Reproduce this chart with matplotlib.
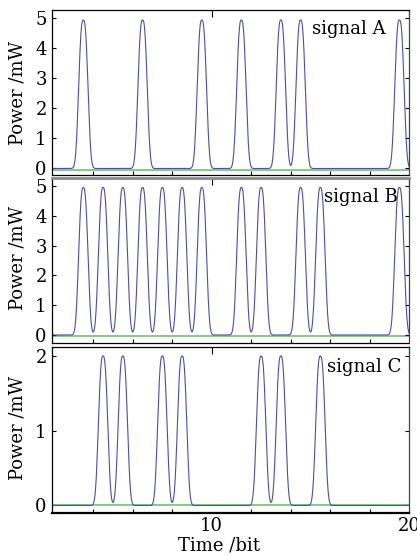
import numpy as np
import matplotlib.pyplot as plt
from matplotlib.ticker import FixedLocator

# bit slots that carry a pulse (slot n is centred at n + 0.5)
bits_A = [3, 6, 9, 11, 13, 14, 19]
bits_B = [3, 4, 5, 6, 7, 8, 9, 11, 12, 14, 15, 19]
bits_C = [4, 5, 7, 8, 12, 13, 15]

peak_A = 4.95   # mW
peak_B = 4.95
peak_C = 2.0

names = ["signal A", "signal B", "signal C"]
yticks_list = [[0, 1, 2, 3, 4, 5], [0, 1, 2, 3, 4, 5], [0, 1, 2]]

pulse_w = 0.222     # super-gaussian width (bit)
pulse_m = 2.73      # super-gaussian order


def pulse_train(t, bits, peak):
    p = np.zeros_like(t)
    for b in bits:
        p += peak * np.exp(-0.5 * (np.abs(t - (b + 0.5)) / pulse_w) ** pulse_m)
    return p


plt.rcParams['font.family'] = ['DejaVu Serif']
fig = plt.figure(figsize=(4.17, 5.56), dpi=100)
W, H = 417., 556.

# pixel boxes: top, bottom
boxes = [(10, 175), (178, 343), (347, 512.5)]
ylims = [(-0.217, 5.283), (-0.268, 5.268), (-0.094, 2.12)]
label_y = [0.5, 0.515, 0.51]
green_off = [-0.04, -0.04, 0.0]
left, right = 52.3, 409.3

t = np.linspace(1.93, 20, 4000)
series = [(bits_A, peak_A), (bits_B, peak_B), (bits_C, peak_C)]

axes = []
for i, (bits, peak) in enumerate(series):
    top, bot = boxes[i]
    ax = fig.add_axes([left / W, 1 - bot / H, (right - left) / W, (bot - top) / H])
    axes.append(ax)
    ax.axhline(green_off[i], color='#72c072', lw=1.2, zorder=1)
    ax.plot(t, pulse_train(t, bits, peak), color='#4d4da6', lw=0.8, zorder=2)
    ax.set_xlim(1.93, 20)
    ax.set_ylim(*ylims[i])
    ax.set_yticks(yticks_list[i])
    ax.xaxis.set_major_locator(FixedLocator([10, 20]))
    ax.xaxis.set_minor_locator(FixedLocator([4, 6, 8, 10, 12, 14, 16, 18]))
    ax.tick_params(axis='y', direction='in', length=3, width=0.8, labelsize=13,
                   pad=4, right=True)
    ax.tick_params(axis='x', which='major', direction='in', length=5, width=0.8,
                   labelsize=13, pad=3, top=True, bottom=False)
    ax.tick_params(axis='x', which='minor', direction='in', length=3, width=0.8,
                   bottom=True, top=False)
    if i < 2:
        ax.tick_params(axis='x', labelbottom=False)
    ax.set_ylabel("Power /mW", fontsize=13)
    ax.yaxis.set_label_coords(-0.0715, label_y[i])
    for s in ax.spines.values():
        s.set_linewidth(0.9)

# panel edges
axes[0].spines['bottom'].set_linestyle((0, (1, 1)))
axes[1].spines['top'].set_color('#8a8a8a')
axes[1].spines['top'].set_linewidth(2.0)
axes[1].spines['bottom'].set_linestyle((0, (1, 1)))
axes[2].spines['bottom'].set_linewidth(1.6)
for ax in axes:
    ax.spines['right'].set_color('#444444')

axes[0].text(0.727, 0.885, names[0], transform=axes[0].transAxes, fontsize=13, va='center')
axes[1].text(0.762, 0.887, names[1], transform=axes[1].transAxes, fontsize=13, va='center')
axes[2].text(0.770, 0.881, names[2], transform=axes[2].transAxes, fontsize=13, va='center')

fig.text(219 / W, 1 - 545 / H, "Time /bit", fontsize=13, ha='center', va='center')

fig.savefig("out.png", dpi=100)
